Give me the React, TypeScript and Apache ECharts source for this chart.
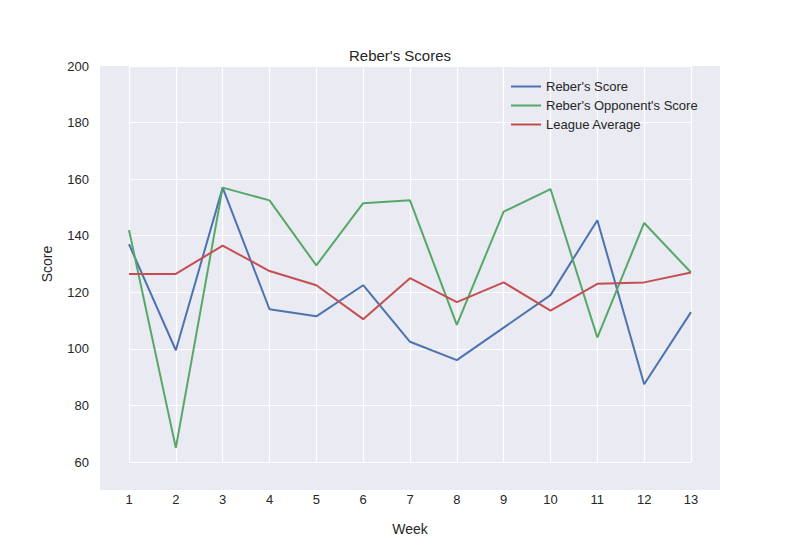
import React, { useEffect, useRef } from 'react';
import * as echarts from 'echarts';

const weeks = [1, 2, 3, 4, 5, 6, 7, 8, 9, 10, 11, 12, 13];
const reberScore = [137, 99.5, 157, 114, 111.5, 122.5, 102.5, 96, 107.5, 119, 145.5, 87.5, 113];
const opponentScore = [142, 65, 157, 152.5, 129.5, 151.5, 152.5, 108.5, 148.5, 156.5, 104, 144.5, 127];
const leagueAverage = [126.5, 126.5, 136.5, 127.5, 122.5, 110.5, 125, 116.5, 123.5, 113.5, 123, 123.5, 127];

const font = 'Liberation Sans';

const App: React.FC = () => {
  const chartRef = useRef<HTMLDivElement | null>(null);

  useEffect(() => {
    if (!chartRef.current) return;
    const chart = echarts.init(chartRef.current, undefined, { renderer: 'svg' });
    const mk = (name: string, vals: number[], color: string) => ({
      name,
      type: 'line',
      data: weeks.map((w, i) => [w, vals[i]]),
      showSymbol: false,
      lineStyle: { color, width: 2 },
      itemStyle: { color },
    });
    chart.setOption({
      animation: false,
      textStyle: { fontFamily: font },
      title: {
        text: "Reber's Scores",
        left: 'center',
        top: 43,
        textStyle: { fontFamily: font, fontSize: 15, fontWeight: 'normal', color: '#262626' },
      },
      graphic: [
        { type: 'rect', shape: { x: 100, y: 66, width: 620, height: 424 }, style: { fill: '#eaeaf2' }, z: -10 },
      ],
      grid: { left: 129, right: 109, top: 66, bottom: 88 },
      legend: {
        orient: 'vertical',
        left: 506,
        top: 75,
        itemWidth: 30,
        itemHeight: 14,
        itemGap: 6,
        icon: 'path://M0,6 L30,6 L30,8 L0,8 Z',
        textStyle: { fontFamily: font, fontSize: 13, color: '#262626' },
      },
      xAxis: {
        type: 'value',
        min: 1,
        max: 13,
        interval: 1,
        name: 'Week',
        nameLocation: 'middle',
        nameGap: 60,
        nameTextStyle: { fontFamily: font, fontSize: 14, color: '#262626' },
        axisLine: { show: false },
        axisTick: { show: false },
        axisLabel: { fontFamily: font, fontSize: 13, color: '#262626', margin: 31 },
        splitLine: { lineStyle: { color: '#ffffff', width: 1.2 } },
      },
      yAxis: {
        type: 'value',
        min: 60,
        max: 200,
        interval: 20,
        name: 'Score',
        nameLocation: 'middle',
        nameGap: 75,
        nameTextStyle: { fontFamily: font, fontSize: 14, color: '#262626' },
        axisLine: { show: false },
        axisTick: { show: false },
        axisLabel: { fontFamily: font, fontSize: 13, color: '#262626', margin: 40 },
        splitLine: { lineStyle: { color: '#ffffff', width: 1.2 } },
      },
      series: [
        mk("Reber's Score", reberScore, '#4c72b0'),
        mk("Reber's Opponent's Score", opponentScore, '#55a868'),
        mk('League Average', leagueAverage, '#c44e52'),
      ],
    });
    return () => chart.dispose();
  }, []);

  return <div ref={chartRef} style={{ width: 800, height: 550, margin: -8 }} />;
};

export default App;
